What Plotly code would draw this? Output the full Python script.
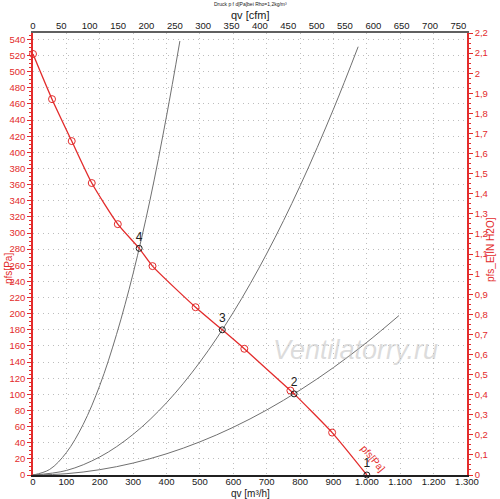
import plotly.graph_objects as go

RED = "#e32b2b"
GRAY = "#707070"

# Fan curve (qv m3/h, pfs Pa)
fan_qv = [0, 57, 116, 176, 254, 318, 358, 487, 567, 633, 771, 782, 896, 1000]
fan_p = [522, 466, 414, 362, 311, 281, 259, 208, 180, 156.5, 104.7, 100.6, 52.6, 0]

# Red circle markers on fan curve
mark_qv = [0, 57, 116, 176, 254, 358, 487, 633, 771, 896]
mark_p = [522, 466, 414, 362, 311, 259, 208, 156.5, 104.7, 52.6]

# Operating points
op_qv = [1000, 782, 567, 318]
op_p = [0, 100.6, 180, 281]
op_lbl = ["1", "2", "3", "4"]

# System curves
sysA_qv = [0, 50, 100, 150, 200, 250, 300, 350, 400, 440]
sysA_p = [0, 6.9, 27.8, 62.5, 111, 174, 250, 340, 445, 538]
sysB_qv = [0, 100, 200, 300, 400, 500, 600, 700, 800, 900, 974]
sysB_p = [0, 5.6, 22.4, 50.4, 89.6, 140, 201.6, 274.4, 358.4, 453.6, 531]
sysC_qv = [0, 100, 200, 300, 400, 500, 600, 700, 800, 900, 1000, 1096]
sysC_p = [0, 1.6, 6.6, 14.8, 26.3, 41.1, 59.2, 80.6, 105.3, 133.2, 164.5, 197.6]

# Tick labels
x_vals = list(range(0, 1301, 100))
x_text = ["0", "100", "200", "300", "400", "500", "600", "700", "800", "900",
          "1.000", "1.100", "1.200", "1.300"]
cfm_vals = list(range(0, 751, 50))
y_vals = list(range(0, 541, 20))
y2_vals = [i / 10 for i in range(0, 23)]
y2_text = ["0", "0,1", "0,2", "0,3", "0,4", "0,5", "0,6", "0,7", "0,8", "0,9", "1",
           "1,1", "1,2", "1,3", "1,4", "1,5", "1,6", "1,7", "1,8", "1,9", "2", "2,1", "2,2"]

X_MAX = 1300
CFM_MAX = 1300 * 0.58858
Y_MAX = 2.2 * 249.089
Y2_MAX = 2.2

fig = go.Figure()

for qv, p in [(sysA_qv, sysA_p), (sysB_qv, sysB_p), (sysC_qv, sysC_p)]:
    fig.add_trace(go.Scatter(x=qv, y=p, mode="lines", line=dict(color=GRAY, width=1, shape="spline"),
                             hoverinfo="skip", showlegend=False))

fig.add_trace(go.Scatter(x=fan_qv, y=fan_p, mode="lines",
                         line=dict(color=RED, width=1.3, shape="spline", smoothing=0.6),
                         showlegend=False))
fig.add_trace(go.Scatter(x=mark_qv, y=mark_p, mode="markers",
                         marker=dict(symbol="circle-open", size=7, color=RED, line=dict(width=1, color=RED)),
                         showlegend=False, cliponaxis=False))
fig.add_trace(go.Scatter(x=op_qv, y=op_p, mode="markers+text", text=op_lbl,
                         textposition="top center", textfont=dict(size=12, color="#202020", family="Liberation Sans"),
                         marker=dict(symbol="circle-open", size=6, color="#202020", line=dict(width=1, color="#202020")),
                         showlegend=False, cliponaxis=False))

# dummy traces to activate secondary axes
fig.add_trace(go.Scatter(x=[0], y=[0], xaxis="x2", yaxis="y", mode="markers",
                         marker=dict(opacity=0), showlegend=False, hoverinfo="skip"))
fig.add_trace(go.Scatter(x=[0], y=[0], xaxis="x", yaxis="y2", mode="markers",
                         marker=dict(opacity=0), showlegend=False, hoverinfo="skip"))

tickfont = dict(family="Liberation Sans", size=9.5)
GRID = dict(showgrid=True, gridcolor="#bdbdbd", griddash="1px,4px", gridwidth=1)

fig.update_layout(
    width=500, height=499,
    margin=dict(l=33, r=33, t=33, b=24, autoexpand=False),
    paper_bgcolor="white", plot_bgcolor="white",
    showlegend=False,
    xaxis=dict(range=[0, X_MAX], tickvals=x_vals, ticktext=x_text, tickfont=dict(color="#202020", **tickfont),
               **GRID, automargin=False, ticklabelstandoff=-3,
               showline=True, linecolor="#202020", linewidth=2, ticks="",
               zeroline=False, fixedrange=True),
    xaxis2=dict(range=[0, CFM_MAX], overlaying="x", side="top", tickvals=cfm_vals, automargin=False,
                tickfont=dict(color="#202020", **tickfont), showgrid=False, ticklabelstandoff=-2,
                showline=True, linecolor="#606060", linewidth=2, ticks="", zeroline=False),
    yaxis=dict(range=[0, Y_MAX], tickvals=y_vals, tickfont=dict(color=RED, **tickfont),
               **GRID, automargin=False,
               showline=True, linecolor=RED, linewidth=1.5, ticks="outside", ticklen=4, tickcolor=RED,
               minor=dict(dtick=5, ticks="outside", ticklen=2, tickcolor=RED, showgrid=False),
               zeroline=False),
    yaxis2=dict(range=[0, Y2_MAX], overlaying="y", side="right", tickvals=y2_vals, ticktext=y2_text,
                tickfont=dict(color=RED, **tickfont), showgrid=False, automargin=False,
                showline=True, linecolor=RED, linewidth=1.5, ticks="outside", ticklen=4, tickcolor=RED,
                minor=dict(dtick=0.025, ticks="outside", ticklen=2, tickcolor=RED, showgrid=False),
                zeroline=False),
)

annots = [
    dict(text="qv [m³/h]", x=0.5, y=-0.041, font=dict(size=10, color="#202020")),
    dict(text="qv [cfm]", x=0.5, y=1.04, font=dict(size=11, color="#202020")),
    dict(text="Druck p f d[Pa]bei Rho=1,2kg/m³", x=0.5, y=1.065, font=dict(size=5, color="#202020")),
    dict(text="pfs[Pa]", x=-0.058, y=0.468, textangle=-90, font=dict(size=10, color=RED)),
    dict(text="pfs_E[IN H2O]", x=1.053, y=0.509, textangle=-90, font=dict(size=10, color=RED)),
    dict(text="Ventilatorry.ru", x=0.742, y=0.283,
         font=dict(size=27, color="rgba(190,190,190,0.55)", style="italic")),
]
for a in annots:
    fig.add_annotation(xref="paper", yref="paper", showarrow=False, xanchor="center", yanchor="middle",
                       font_family="Liberation Sans", **{k: v for k, v in a.items()})

fig.add_annotation(text="pfs[Pa]", x=1018, y=20, xref="x", yref="y", showarrow=False, textangle=50,
                   xanchor="center", yanchor="middle",
                   font=dict(size=10, color=RED, family="Liberation Sans"))

fig.write_html("out.html", config={"displayModeBar": False},
               post_script="document.body.style.margin='0';document.body.style.overflow='hidden';")
